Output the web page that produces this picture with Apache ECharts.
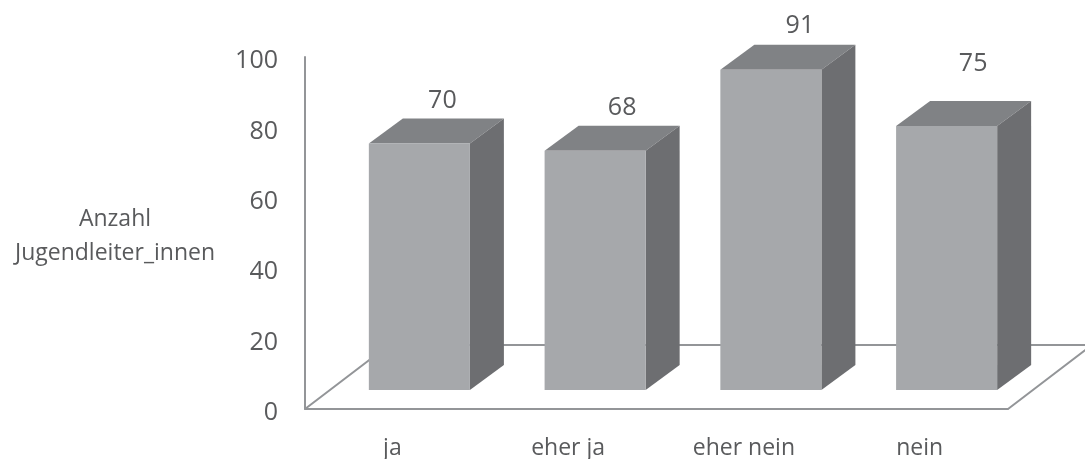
<!DOCTYPE html>
<html>
<head>
<meta charset="utf-8">
<style>
html, body { margin: 0; padding: 0; background: #fff; }
#chart { width: 1085px; height: 459px; }
</style>
<script src="https://cdn.jsdelivr.net/npm/echarts@6/dist/echarts.min.js"></script>
</head>
<body>
<div id="chart"></div>
<script>
var categories = ['ja', 'eher ja', 'eher nein', 'nein'];
var values = [70, 68, 91, 75];
var yTicks = [0, 20, 40, 60, 80, 100];
var yName = 'Anzahl\nJugendleiter_innen';

var textColor = '#595a5c';
var lineColor = '#939598';

// fake 3d: front face is shifted into the floor, depth goes up and right
var depthX = 34, depthY = 25;
var shiftX = 26.5, shiftY = 19;
var barRatio = 0.575;

// the value labels were placed by hand in the original
var labelNudgeX = [23, 27, 29, 26.5];
var labelNudgeY = [18, 18, 19, 37];

var myChart = echarts.init(document.getElementById('chart'));

function renderFloor(params, api) {
    var c = params.coordSys;
    var bottom = c.y + c.height;
    return {
        type: 'polyline',
        silent: true,
        shape: {
            points: [
                [c.x, bottom],
                [c.x + 84, bottom - 64],
                [c.x + c.width + 84, bottom - 64],
                [c.x + c.width, bottom]
            ]
        },
        style: { stroke: lineColor, lineWidth: 2, fill: null }
    };
}

function renderBar(params, api) {
    var top = api.coord([api.value(0), api.value(1)]);
    var base = api.coord([api.value(0), 0]);
    var w = api.size([1, 0])[0] * barRatio;
    var l = top[0] + shiftX - w / 2;
    var r = l + w;
    var t = top[1] - shiftY;
    var b = base[1] - shiftY;
    return {
        type: 'group',
        children: [
            {
                type: 'polygon',
                shape: { points: [[l, t], [r, t], [r + depthX, t - depthY], [l + depthX, t - depthY]] },
                style: { fill: '#808285' }
            },
            {
                type: 'polygon',
                shape: { points: [[r, t], [r + depthX, t - depthY], [r + depthX, b - depthY], [r, b]] },
                style: { fill: '#6d6e71' }
            },
            {
                type: 'rect',
                shape: { x: l, y: t, width: w, height: b - t },
                style: { fill: '#a6a8ab' }
            },
            {
                type: 'text',
                style: {
                    x: top[0] + shiftX + labelNudgeX[params.dataIndex],
                    y: t - depthY - labelNudgeY[params.dataIndex],
                    text: String(api.value(1)),
                    fill: textColor,
                    font: '25px "Open Sans"',
                    align: 'center',
                    verticalAlign: 'middle'
                }
            }
        ]
    };
}

var option = {
    animation: false,
    backgroundColor: '#fff',
    grid: { left: 305, top: 57, width: 703, height: 352, outerBoundsMode: 'none' },
    xAxis: {
        type: 'category',
        data: categories,
        axisTick: { show: false },
        axisLine: { lineStyle: { color: lineColor, width: 2 } },
        axisLabel: { color: textColor, fontFamily: 'Open Sans', fontSize: 23, margin: 28, padding: [0, 1, 0, 0] }
    },
    yAxis: {
        type: 'value',
        min: yTicks[0],
        max: yTicks[yTicks.length - 1],
        interval: yTicks[1] - yTicks[0],
        name: yName,
        nameLocation: 'middle',
        nameRotate: 0,
        nameGap: 190,
        nameTextStyle: { color: textColor, fontFamily: 'Open Sans', fontSize: 23, lineHeight: 34, align: 'center', verticalAlign: 'top', padding: [-31, 0, 0, 0] },
        splitLine: { show: false },
        axisTick: { show: false },
        axisLine: { show: true, lineStyle: { color: lineColor, width: 2 } },
        axisLabel: { color: textColor, fontFamily: 'Open Sans', fontSize: 25, margin: 27, verticalAlign: 'top', lineHeight: 8 }
    },
    series: [
        {
            type: 'custom',
            renderItem: renderFloor,
            data: [[0, 0]],
            clip: false,
            silent: true,
            z: 1
        },
        {
            type: 'custom',
            renderItem: renderBar,
            data: categories.map(function(c, i) { return [i, values[i]]; }),
            clip: false,
            z: 2
        }
    ]
};

myChart.setOption(option, true);
</script>
</body>
</html>
